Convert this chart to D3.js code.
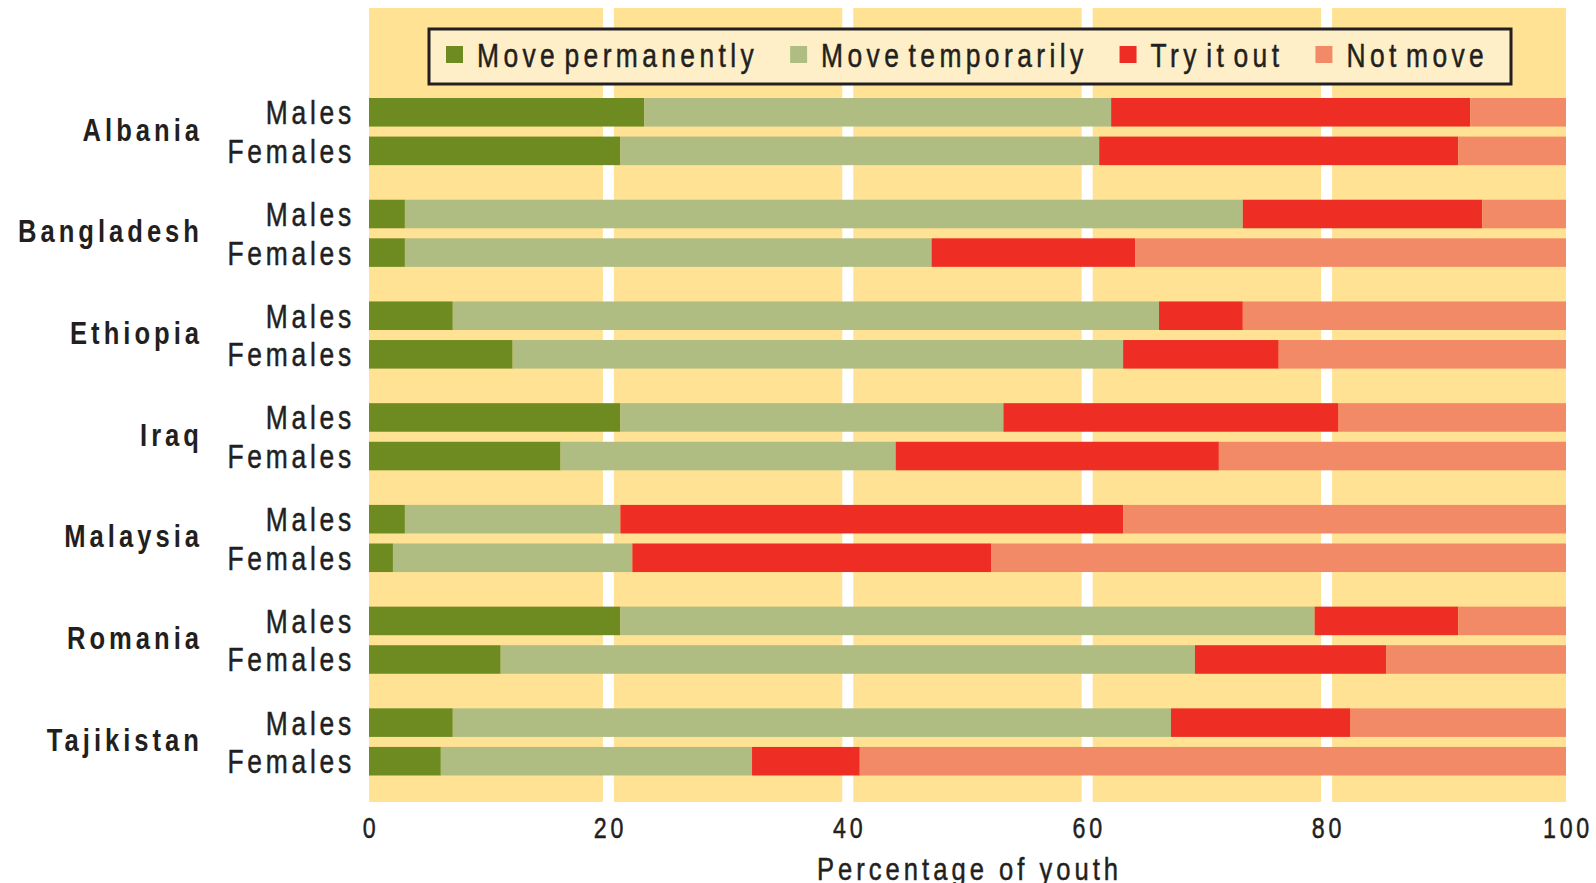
<!DOCTYPE html>
<html>
<head>
<meta charset="utf-8">
<script src="https://cdn.jsdelivr.net/npm/d3@7/dist/d3.min.js"></script>
<style>
  html, body { margin: 0; padding: 0; background: #ffffff; }
  svg { display: block; }
  .lbl { font-family: "Liberation Sans", Arial, sans-serif; fill: #231f20; }
  .reg { stroke: #231f20; stroke-width: 0.5px; }
</style>
</head>
<body>
<svg id="chart" width="1596" height="883"></svg>
<script>
// ---- data ----
const countries = ["Albania", "Bangladesh", "Ethiopia", "Iraq", "Malaysia", "Romania", "Tajikistan"];
const sexes = ["Males", "Females"];
const seriesNames = ["Move permanently", "Move temporarily", "Try it out", "Not move"];
// values ordered country by country: Males, Females
const movePermanently = [23, 21,  3,  3,  7, 12, 21, 16,  3,  2, 21, 11,  7,  6];
const moveTemporarily = [39, 40, 70, 44, 59, 51, 32, 28, 18, 20, 58, 58, 60, 26];
const tryItOut        = [30, 30, 20, 17,  7, 13, 28, 27, 42, 30, 12, 16, 15,  9];
const notMove         = [ 8,  9,  7, 36, 27, 24, 19, 29, 37, 48,  9, 15, 18, 59];
const xTicks = [0, 20, 40, 60, 80, 100];
const xTitle = "Percentage of youth";
const colors = ["#6e8b22", "#afbd83", "#ee2e24", "#f38a67"];

// ---- build rows ----
const rows = [];
countries.forEach((c, ci) => {
  sexes.forEach((s, si) => {
    const i = ci * 2 + si;
    rows.push({
      country: c, sex: s,
      "Move permanently": movePermanently[i],
      "Move temporarily": moveTemporarily[i],
      "Try it out": tryItOut[i],
      "Not move": notMove[i]
    });
  });
});

const svg = d3.select("#chart");
const plotLeft = 369, plotRight = 1566, plotTop = 8, plotBottom = 802;
const SX = 0.8; // horizontal condensation of the label font

function place(sel, fx, fy) {
  sel.attr("x", 0).attr("y", 0)
     .attr("transform", (d, i) => `translate(${fx(d, i)},${fy(d, i)}) scale(${SX},1)`);
}

const x = d3.scaleLinear().domain([0, 100]).range([plotLeft, plotRight]);
const yCountry = d3.scaleBand().domain(countries).range([98, 775.5]).paddingInner(0.34).paddingOuter(0);
const ySex = d3.scaleBand().domain(sexes).range([0, yCountry.bandwidth()]).paddingInner(0.26).paddingOuter(0);
const color = d3.scaleOrdinal().domain(seriesNames).range(colors);

// background
svg.append("rect")
  .attr("x", plotLeft).attr("y", plotTop)
  .attr("width", plotRight - plotLeft).attr("height", plotBottom - plotTop)
  .attr("fill", "#ffe293");

// white gridlines
svg.append("g").selectAll("line")
  .data(xTicks.filter(d => d > 0 && d < 100))
  .join("line")
  .attr("x1", d => x(d)).attr("x2", d => x(d))
  .attr("y1", plotTop).attr("y2", plotBottom)
  .attr("stroke", "#ffffff").attr("stroke-width", 11);

// stacked bars
const stack = d3.stack().keys(seriesNames);
const series = stack(rows);
svg.append("g").selectAll("g")
  .data(series)
  .join("g")
  .attr("fill", d => color(d.key))
  .selectAll("rect")
  .data(d => d)
  .join("rect")
  .attr("x", d => x(d[0]))
  .attr("width", d => x(d[1]) - x(d[0]))
  .attr("y", d => yCountry(d.data.country) + ySex(d.data.sex))
  .attr("height", ySex.bandwidth());

// sex labels
svg.append("g").selectAll("text")
  .data(rows)
  .join("text")
  .attr("class", "lbl reg")
  .attr("text-anchor", "end")
  .attr("font-size", 33)
  .attr("letter-spacing", 4.7)
  .text(d => d.sex)
  .call(place, () => 355, d => yCountry(d.country) + ySex(d.sex) + ySex.bandwidth() / 2 + 12);

// country labels
svg.append("g").selectAll("text")
  .data(countries)
  .join("text")
  .attr("class", "lbl")
  .attr("text-anchor", "end")
  .attr("font-size", 32)
  .attr("font-weight", "bold")
  .attr("letter-spacing", 5)
  .text(d => d)
  .call(place, () => 203, d => yCountry(d) + yCountry.bandwidth() / 2 + 9);

// x axis
const xAxis = d3.axisBottom(x).tickValues(xTicks).tickSize(0).tickPadding(0).tickFormat(d3.format("d"));
const gx = svg.append("g").call(xAxis);
gx.select(".domain").remove();
gx.selectAll(".tick").attr("transform", null);
gx.selectAll(".tick text")
  .attr("class", "lbl reg")
  .attr("dy", null)
  .attr("font-size", 29)
  .attr("font-family", null)
  .attr("letter-spacing", 4.8)
  .attr("fill", "#231f20")
  .call(place, d => x(d) + 2, () => 838);

svg.append("text")
  .attr("class", "lbl reg")
  .attr("text-anchor", "middle")
  .attr("font-size", 32)
  .attr("letter-spacing", 5.0)
  .text(xTitle)
  .call(place, () => (plotLeft + plotRight) / 2 + 2, () => 880);

// legend
const legend = svg.append("g");
legend.append("rect")
  .attr("x", 429).attr("y", 29).attr("width", 1082).attr("height", 55)
  .attr("fill", "#ffefc8").attr("stroke", "#231f20").attr("stroke-width", 3);
let lx = 446;
seriesNames.forEach((name) => {
  legend.append("rect")
    .attr("x", lx).attr("y", 46).attr("width", 17).attr("height", 17)
    .attr("fill", color(name));
  const t = legend.append("text")
    .datum(lx)
    .attr("class", "lbl reg")
    .attr("font-size", 33)
    .attr("letter-spacing", 5.5)
    .attr("word-spacing", -8)
    .text(name)
    .call(place, d => d + 31, () => 67);
  lx += 31 + t.node().getComputedTextLength() * SX + 32;
});
</script>
</body>
</html>
